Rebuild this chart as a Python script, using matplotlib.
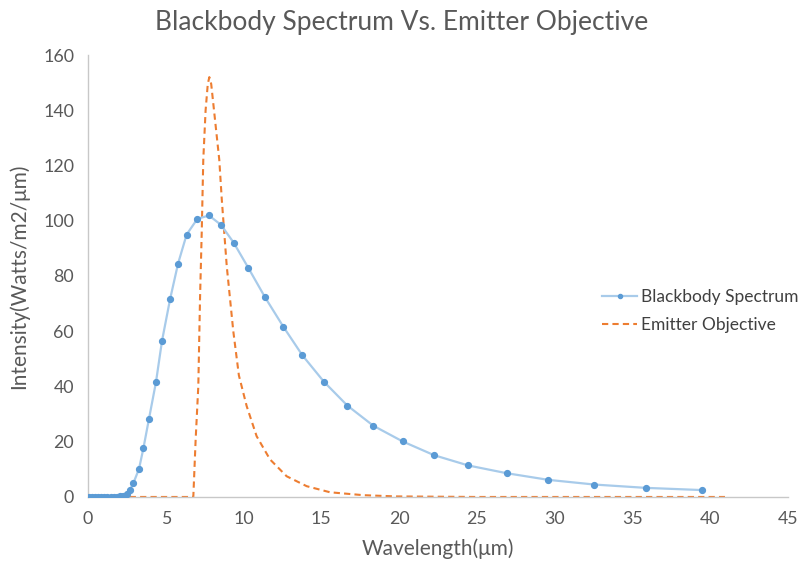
"""Blackbody spectrum vs. emitter objective, redrawn from a spreadsheet chart."""

import matplotlib
matplotlib.use("Agg")
import matplotlib.pyplot as plt

# blackbody points (wavelength um, intensity W/m2/um)
bb_x = [0.05, 0.25, 0.45, 0.65, 0.85, 1.05, 1.25, 1.45, 1.65, 1.85, 2.05, 2.25,
        2.49, 2.70, 2.91, 3.28, 3.56, 3.92, 4.37, 4.76, 5.28, 5.79, 6.34, 7.03,
        7.78, 8.55, 9.36, 10.30, 11.38, 12.55, 13.78, 15.17, 16.67, 18.34, 20.23,
        22.26, 24.45, 26.92, 29.59, 32.55, 35.85, 39.45]
bb_y = [0.0, 0.0, 0.0, 0.0, 0.0, 0.0, 0.0, 0.0, 0.05, 0.1, 0.25, 0.5,
        0.9, 2.7, 4.9, 10.2, 17.6, 28.3, 41.6, 56.6, 71.7, 84.5, 95.0, 100.7,
        101.9, 98.5, 92.1, 83.0, 72.3, 61.7, 51.3, 41.7, 33.1, 25.8, 20.1,
        15.1, 11.4, 8.6, 6.2, 4.5, 3.3, 2.5]

# emitter objective curve
em_x = [0.0, 6.77, 6.92, 7.09, 7.20, 7.31, 7.41, 7.56, 7.70, 7.80, 7.92, 8.10,
        8.44, 8.60, 8.92, 9.34, 9.70, 10.20, 10.84, 11.70, 12.77, 14.06, 15.56,
        17.70, 19.80, 25.0, 40.95]
em_y = [0.0, 0.0, 20.8, 40.0, 71.5, 95.7, 122.0, 140.0, 149.5, 152.0, 149.5, 140.0,
        122.0, 107.7, 83.5, 60.0, 44.0, 32.9, 22.0, 13.6, 7.5, 3.9, 1.7,
        0.65, 0.2, 0.0, 0.0]

x_ticks = [0, 5, 10, 15, 20, 25, 30, 35, 40, 45]
y_ticks = [0, 20, 40, 60, 80, 100, 120, 140, 160]

TEXT = "#595959"
plt.rcParams["font.family"] = ["Lato", "DejaVu Sans"]

fig = plt.figure(figsize=(8.03, 5.76), dpi=100)
ax = fig.add_axes([0.1096, 0.1372, 0.8717, 0.7673])

ax.plot(bb_x, bb_y, color="#a8cbea", lw=1.6, marker="o", ms=4.2,
        mfc="#5b9bd5", mec="#5b9bd5", label="Blackbody Spectrum", zorder=3)
ax.plot(em_x, em_y, color="#ed7d31", lw=1.5, ls=(0, (3, 2)),
        label="Emitter Objective", zorder=2)

ax.set_xlim(0, 45)
ax.set_ylim(0, 160)
ax.set_xticks(x_ticks)
ax.set_yticks(y_ticks)
ax.tick_params(length=0, labelsize=12.8, colors=TEXT, pad=10)
for s in ("top", "right"):
    ax.spines[s].set_visible(False)
for s in ("left", "bottom"):
    ax.spines[s].set_color("#c8c8c8")
    ax.spines[s].set_linewidth(1)

ax.set_xlabel("Wavelength(\u03bcm)", fontsize=15, color=TEXT, labelpad=8)
ax.set_ylabel("Intensity(Watts/m2/\u03bcm)", fontsize=15, color=TEXT, labelpad=10)
fig.suptitle("Blackbody Spectrum Vs. Emitter Objective", fontsize=19,
             color=TEXT, y=0.982)

leg = ax.legend(loc="center left", bbox_to_anchor=(0.735, 0.42), frameon=False,
                fontsize=12.5, handlelength=2.0, handletextpad=0.2,
                labelspacing=0.7, borderpad=0, borderaxespad=0, markerscale=0.7)
for t in leg.get_texts():
    t.set_color("#404040")

fig.savefig("out.png", dpi=100)
